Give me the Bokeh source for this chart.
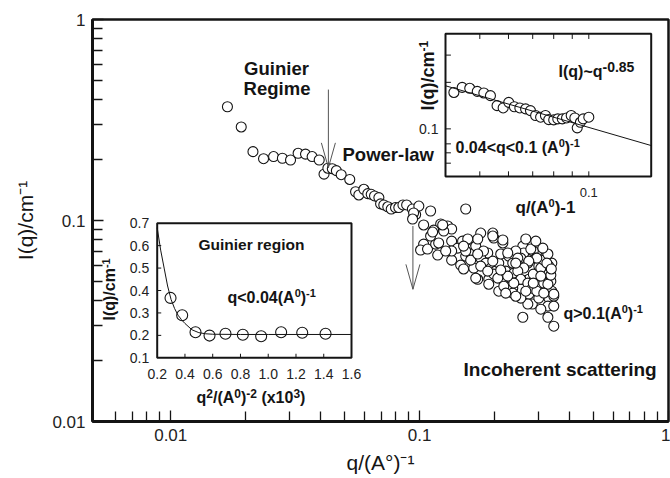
from math import pi
from bokeh.plotting import figure
from bokeh.plotting.glyph_api import GlyphAPI
from bokeh.models import (Range1d, LogScale, LinearScale, LogAxis, FixedTicker,
                          CustomJSTickFormatter, Label, CoordinateMapping)
from bokeh.core.properties import value
from bokeh.embed import file_html
from bokeh.resources import INLINE

# ---------------- data ----------------
# main curve, low-q part (Guinier + power-law)
q_low = [0.0169, 0.0192, 0.0214, 0.0236, 0.0259, 0.0281, 0.0303, 0.0325, 0.0348, 0.0370,
         0.0395, 0.0413, 0.0428, 0.0446, 0.0463, 0.0484, 0.0524, 0.0553, 0.0570, 0.0597,
         0.0619, 0.0639, 0.0659, 0.0686, 0.0697, 0.0718, 0.0745, 0.0769, 0.0800, 0.0825,
         0.0857, 0.0887, 0.0935, 0.0964, 0.0993, 0.1107, 0.0946, 0.0937]
I_low = [0.368, 0.292, 0.220, 0.203, 0.208, 0.204, 0.200, 0.216, 0.214, 0.208,
         0.200, 0.170, 0.182, 0.181, 0.177, 0.169, 0.160, 0.139, 0.134, 0.143,
         0.136, 0.135, 0.1325, 0.130, 0.121, 0.1195, 0.117, 0.114, 0.116, 0.116,
         0.1195, 0.1195, 0.114, 0.107, 0.118, 0.1115, 0.109, 0.1017]
# main curve, high-q cloud (incoherent scattering)
q_cloud = [0.1038, 0.1215, 0.1297, 0.1345, 0.1250, 0.1139, 0.1038, 0.1009, 0.1076, 0.1160,
           0.1182, 0.1107, 0.1345, 0.1422, 0.1488, 0.1561, 0.1345, 0.1462, 0.1532, 0.1604,
           0.1681, 0.1760, 0.1712, 0.1968, 0.1986, 0.2160, 0.1878, 0.1760, 0.1844, 0.1931,
           0.1650, 0.1712, 0.1896, 0.2023, 0.2080, 0.2118, 0.2281, 0.2367, 0.2219, 0.2160,
           0.2324, 0.2390, 0.2503, 0.2598, 0.2622, 0.2550, 0.2722, 0.2503, 0.2550, 0.2746,
           0.2837, 0.2746, 0.2863, 0.2863, 0.2930, 0.3012, 0.3069, 0.3155, 0.3214, 0.3306,
           0.3398, 0.3367, 0.3398, 0.3306, 0.3276, 0.3460, 0.2598, 0.3276, 0.3460, 0.2722,
           0.2367, 0.2080, 0.1986, 0.1502, 0.1532,
           0.2434, 0.2480, 0.2260, 0.1968, 0.2160, 0.1561, 0.1345, 0.1193, 0.1238, 0.1128,
           0.1273, 0.1604, 0.1681, 0.1896, 0.1760, 0.2061, 0.2179, 0.2367, 0.2550, 0.3012,
           0.3276, 0.3460, 0.3367, 0.3306, 0.3069, 0.3155, 0.3276, 0.2957, 0.2746, 0.2622,
           0.2480, 0.2550, 0.2722, 0.2837, 0.2957, 0.3155, 0.2390, 0.2260, 0.2118, 0.1968,
           0.1878, 0.1806, 0.1712, 0.1532, 0.1502,
           0.2797, 0.3126, 0.2930, 0.2671, 0.3245, 0.3382, 0.3069, 0.2863, 0.2671, 0.2434,
           0.2219, 0.3460, 0.3069, 0.2434]
I_cloud = [0.0950, 0.0961, 0.0939, 0.0907, 0.0886, 0.0896, 0.0763, 0.0713, 0.0721, 0.0763,
           0.0673, 0.0837, 0.0790, 0.0729, 0.0790, 0.0721, 0.0635, 0.0600, 0.0665, 0.0681,
           0.0746, 0.0866, 0.0809, 0.0866, 0.0818, 0.0773, 0.0689, 0.0650, 0.0614, 0.0580,
           0.0580, 0.0510, 0.0510, 0.0560, 0.0614, 0.0681, 0.0665, 0.0614, 0.0560, 0.0510,
           0.0517, 0.0547, 0.0580, 0.0746, 0.0689, 0.0650, 0.0614, 0.0482, 0.0455, 0.0430,
           0.0384, 0.0510, 0.0541, 0.0705, 0.0650, 0.0593, 0.0460, 0.0488, 0.0665, 0.0547,
           0.0614, 0.0499, 0.0445, 0.0411, 0.0375, 0.0420, 0.0330, 0.0330, 0.0298, 0.0384,
           0.0460, 0.0445, 0.0541, 0.0574, 0.1141,
           0.0705, 0.0650, 0.0689, 0.0837, 0.0800, 0.0809, 0.0705, 0.0773, 0.0950, 0.0876,
           0.0705, 0.0635, 0.0517, 0.0482, 0.0593, 0.0517, 0.0471, 0.0435, 0.0411, 0.0411,
           0.0482, 0.0430, 0.0535, 0.0593, 0.0580, 0.0635, 0.0681, 0.0650, 0.0628, 0.0580,
           0.0560, 0.0510, 0.0488, 0.0460, 0.0445, 0.0435, 0.0488, 0.0529, 0.0567, 0.0628,
           0.0560, 0.0705, 0.0681, 0.0705, 0.0746,
           0.0721, 0.0729, 0.0790, 0.0809, 0.0614, 0.0574, 0.0529, 0.0488, 0.0445, 0.0420,
           0.0435, 0.0375, 0.0362, 0.0614]

# arrows marking the regime boundaries
arrow_q = [0.043, 0.094]
arrow_top = [0.448, 0.0939]
arrow_tip = [0.183, 0.0455]

# main axes ticks
x_major = [0.01, 0.1, 1.0]
x_minor = [0.006, 0.007, 0.008, 0.009, 0.02, 0.03, 0.04, 0.05, 0.06, 0.07, 0.08, 0.09,
           0.2, 0.3, 0.4, 0.5, 0.6, 0.7, 0.8, 0.9]
y_major = [0.01, 0.1, 1.0]
y_minor = [0.02, 0.03, 0.04, 0.05, 0.06, 0.07, 0.08, 0.09,
           0.2, 0.3, 0.4, 0.5, 0.6, 0.7, 0.8, 0.9]

# lower inset: Guinier region
gu_q2 = [0.296, 0.380, 0.476, 0.577, 0.692, 0.817, 0.949, 1.093, 1.245, 1.413]
gu_I = [0.367, 0.290, 0.214, 0.199, 0.207, 0.2025, 0.196, 0.214, 0.2115, 0.207]
gu_fit_q2 = [0.2, 0.225, 0.25, 0.275, 0.3, 0.325, 0.35, 0.375, 0.4, 0.45, 0.5, 0.55,
             0.6, 0.8, 1.0, 1.2, 1.4, 1.6]
gu_fit_I = [0.68, 0.58, 0.50, 0.42, 0.36, 0.32, 0.29, 0.27, 0.253, 0.225, 0.212, 0.207,
            0.205, 0.204, 0.204, 0.204, 0.204, 0.204]
gu_xticks = [0.2, 0.4, 0.6, 0.8, 1.0, 1.2, 1.4, 1.6]
gu_xlabels = ["0.2", "0.4", "0.6", "0.8", "1.0", "1.2", "1.4", "1.6"]
gu_yticks = [0.1, 0.2, 0.3, 0.4, 0.5, 0.6, 0.7]
gu_ylabels = ["0.1", "0.2", "0.3", "0.4", "0.5", "0.6", "0.7"]

# upper inset: power-law region
pl_q = [0.0424, 0.0447, 0.0469, 0.0492, 0.0513, 0.0535, 0.0558, 0.0580, 0.0601, 0.0623,
        0.0645, 0.0669, 0.0690, 0.0713, 0.0736, 0.0759, 0.0775, 0.0800, 0.0821, 0.0845,
        0.0868, 0.0894, 0.0915, 0.0929, 0.0948, 0.0965, 0.1000]
pl_I = [0.172, 0.1855, 0.183, 0.1748, 0.1707, 0.164, 0.1413, 0.1366, 0.1484, 0.139,
        0.1366, 0.1346, 0.1313, 0.122, 0.119, 0.122, 0.1148, 0.1143, 0.116, 0.116,
        0.1177, 0.122, 0.1177, 0.1015, 0.1103, 0.116, 0.119]
pl_fit_q = [0.0402, 0.1487]
pl_fit_I = [0.190, 0.078]
pl_xticks = [0.05, 0.06, 0.07, 0.08, 0.09, 0.1]
pl_yticks = [0.06, 0.07, 0.08, 0.1, 0.2, 0.3]

# ---------------- figure ----------------
FONT = "Liberation Sans"
INK = "#141414"
W, H = 670, 478
BL, BR, BT, BB = 92, 2, 19, 57
FW, FH = W - BL - BR, H - BT - BB

p = figure(width=W, height=H, x_range=Range1d(0, FW), y_range=Range1d(0, FH),
           x_axis_type=None, y_axis_type=None, toolbar_location=None,
           output_backend="svg", min_border_left=BL, min_border_right=BR,
           min_border_top=BT, min_border_bottom=BB)
p.background_fill_color = "white"
p.border_fill_color = "white"
p.outline_line_color = INK
p.outline_line_width = 2.5

p.extra_x_ranges = {"q": Range1d(0.00485, 1.0)}
p.extra_x_scales = {"q": LogScale()}
p.extra_y_ranges = {"I": Range1d(0.01, 1.0)}
p.extra_y_scales = {"I": LogScale()}


def style_axis(ax):
    ax.axis_line_width = 3
    ax.axis_line_color = INK
    ax.major_tick_in = 11
    ax.major_tick_out = 0
    ax.minor_tick_in = 10
    ax.minor_tick_out = 0
    ax.major_tick_line_width = 1.3
    ax.minor_tick_line_width = 1.3
    ax.major_tick_line_color = INK
    ax.minor_tick_line_color = INK
    ax.major_label_text_font = FONT
    ax.major_label_text_font_size = "17px"
    ax.major_label_text_color = "#222222"
    ax.major_label_standoff = 7
    ax.axis_label_text_font = FONT
    ax.axis_label_text_font_size = "21px"
    ax.axis_label_text_font_style = "normal"
    ax.axis_label_text_color = INK


xax = LogAxis(x_range_name="q", ticker=FixedTicker(ticks=x_major, minor_ticks=x_minor),
              formatter=CustomJSTickFormatter(code="return tick.toString();"),
              axis_label="q/(A°)⁻¹")
style_axis(xax)
xax.axis_label_standoff = 7
p.add_layout(xax, "below")
yax = LogAxis(y_range_name="I", ticker=FixedTicker(ticks=y_major, minor_ticks=y_minor),
              formatter=CustomJSTickFormatter(code="return tick.toString();"),
              axis_label="I(q)/cm⁻¹")
style_axis(yax)
yax.axis_label_standoff = 12
p.add_layout(yax, "left")

# main data
p.scatter(q_low + q_cloud, I_low + I_cloud, x_range_name="q", y_range_name="I",
          marker="circle", size=10, fill_color="white", line_color=INK, line_width=1.1)

# arrows (open V heads, length/width as multiplicative offsets on log axes)
HEAD_L, HEAD_W = 1.33, 1.067
p.segment(x0=arrow_q, y0=arrow_top, x1=arrow_q, y1=arrow_tip, x_range_name="q",
          y_range_name="I", line_color="#555555", line_width=1)
p.segment(x0=[q / HEAD_W for q in arrow_q], y0=[t * HEAD_L for t in arrow_tip],
          x1=arrow_q, y1=arrow_tip, x_range_name="q", y_range_name="I",
          line_color="#555555", line_width=1)
p.segment(x0=[q * HEAD_W for q in arrow_q], y0=[t * HEAD_L for t in arrow_tip],
          x1=arrow_q, y1=arrow_tip, x_range_name="q", y_range_name="I",
          line_color="#555555", line_width=1)

# ---------------- lower inset (linear) ----------------
GX0, GX1, GY0, GY1 = 0.2, 1.6, 0.1, 0.7
g = GlyphAPI(p, CoordinateMapping(x_source=Range1d(GX0, GX1), y_source=Range1d(GY0, GY1),
                                  x_scale=LinearScale(), y_scale=LinearScale(),
                                  x_target=Range1d(64.7, 259.0),
                                  y_target=Range1d(63.7, 198.3)))
g.quad(left=[GX0], right=[GX1], bottom=[GY0], top=[GY1], fill_color="white",
       line_color=INK, line_width=2)
g.segment(x0=gu_xticks[1:-1], y0=[GY0] * 6, x1=gu_xticks[1:-1], y1=[GY0 + 0.018] * 6,
          line_color=INK, line_width=1)
g.segment(x0=[GX0] * 5, y0=gu_yticks[1:-1], x1=[GX0 + 0.029] * 5, y1=gu_yticks[1:-1],
          line_color=INK, line_width=1)
g.scatter(gu_q2, gu_I, marker="circle", size=11, fill_color="white", line_color=INK,
          line_width=1.1)
g.line(gu_fit_q2, gu_fit_I, line_color=INK, line_width=1)
g.text(x=gu_xticks, y=[GY0] * len(gu_xticks), text=gu_xlabels, text_align="center",
       text_baseline="middle", y_offset=16, text_font=value(FONT),
       text_font_size="14px", text_color="#222222")
g.text(x=[GX0] * len(gu_yticks), y=gu_yticks, text=gu_ylabels, text_align="right",
       text_baseline="middle", x_offset=-8, text_font=value(FONT),
       text_font_size="14px", text_color="#222222")

# ---------------- upper inset (log-log) ----------------
PX0, PX1, PY0, PY1 = 0.0402, 0.1487, 0.0492, 0.412
u = GlyphAPI(p, CoordinateMapping(x_source=Range1d(PX0, PX1), y_source=Range1d(PY0, PY1),
                                  x_scale=LogScale(), y_scale=LogScale(),
                                  x_target=Range1d(353.0, 558.7),
                                  y_target=Range1d(245.0, 387.7)))
u.quad(left=[PX0], right=[PX1], bottom=[PY0], top=[PY1], fill_color="white",
       line_color=INK, line_width=2)
n = len(pl_xticks)
u.segment(x0=pl_xticks, y0=[PY0] * n, x1=pl_xticks, y1=[PY0 * 1.08] * n,
          line_color=INK, line_width=1)
u.segment(x0=pl_xticks, y0=[PY1] * n, x1=pl_xticks, y1=[PY1 / 1.08] * n,
          line_color=INK, line_width=1)
m = len(pl_yticks)
u.segment(x0=[PX0] * m, y0=pl_yticks, x1=[PX0 * 1.035] * m, y1=pl_yticks,
          line_color=INK, line_width=1)
u.scatter(pl_q, pl_I, marker="circle", size=10, fill_color="white", line_color=INK,
          line_width=1.1)
u.line(pl_fit_q, pl_fit_I, line_color=INK, line_width=1)
u.text(x=[PX0], y=[0.1], text=["0.1"], text_align="right", text_baseline="middle",
       x_offset=-7, text_font=value(FONT), text_font_size="14px", text_color="#222222")
u.text(x=[0.1], y=[PY0], text=["0.1"], text_align="center", text_baseline="middle",
       y_offset=16, text_font=value(FONT), text_font_size="13px", text_color="#222222")

# ---------------- texts ----------------
W_BOLD = {' ': 278, '(': 333, ')': 333, '/': 278, '.': 278, '-': 333, '~': 584, '<': 584,
          '>': 584, 'I': 278, 'q': 611, 'c': 556, 'm': 889, 'A': 722, 'x': 556}
BASE_FIX = 0.36  # em fraction: lift so the anchor acts as the alphabetic baseline


def tw(s, size):
    return sum(W_BOLD.get(c, 556) for c in s) * size / 1000.0


def label(x, y, text, size, align="left", angle=0.0):
    if angle:
        x = x - BASE_FIX * size
    else:
        y = y + BASE_FIX * size
    p.add_layout(Label(x=x, y=y, text=text, text_font=FONT, text_font_size=f"{size}px",
                       text_font_style="bold", text_align=align,
                       text_baseline="alphabetic", angle=angle, text_color=INK))


def rich(x, y, parts, size, sup, rise, rotate=False):
    pos = 0.0
    for t, is_sup in parts:
        fs = sup if is_sup else size
        lead = len(t) - len(t.lstrip(" "))
        pos += tw(" " * lead, fs)
        t = t.lstrip(" ")
        d = rise if is_sup else 0
        if rotate:
            label(x - d, y + pos, t, fs, angle=pi / 2)
        else:
            label(x + pos, y + d, t, fs)
        pos += tw(t, fs)


# main annotations
label(184, 346, "Guinier", 18.5, align="center")
label(184.5, 326.5, "Regime", 18.5, align="center")
label(250, 260.3, "Power-law", 18.5)
rich(471, 102, [("q>0.1(A", False), ("0", True), (")", False), ("-1", True)], 16, 11, 7)
label(371, 45, "Incoherent scattering", 19)

# lower inset texts
label(106, 171, "Guinier region", 15.5)
rich(135, 118, [("q<0.04(A", False), ("0", True), (")", False), ("-1", True)], 16, 11, 7)
rich(23, 101, [("I(q)/cm", False), ("-1", True)], 16, 11, 6, rotate=True)
rich(104, 18, [("q", False), ("2", True), ("/(A", False), ("0", True), (")", False),
               ("-2", True), (" (x10", False), ("3", True), (")", False)], 16, 12, 6)

# upper inset texts
rich(466, 344, [("I(q)~q", False), ("-0.85", True)], 16, 14, 5)
rich(363, 268, [("0.04<q<0.1 (A", False), ("0", True), (")", False), ("-1", True)],
     16, 11, 7)
rich(423, 208, [("q/(A", False), ("0", True), (")-1", False)], 17, 11, 7)
rich(342, 311, [("I(q)/cm", False), ("-1", True)], 18, 12, 7, rotate=True)

open("out.html", "w").write(file_html(p, INLINE))
